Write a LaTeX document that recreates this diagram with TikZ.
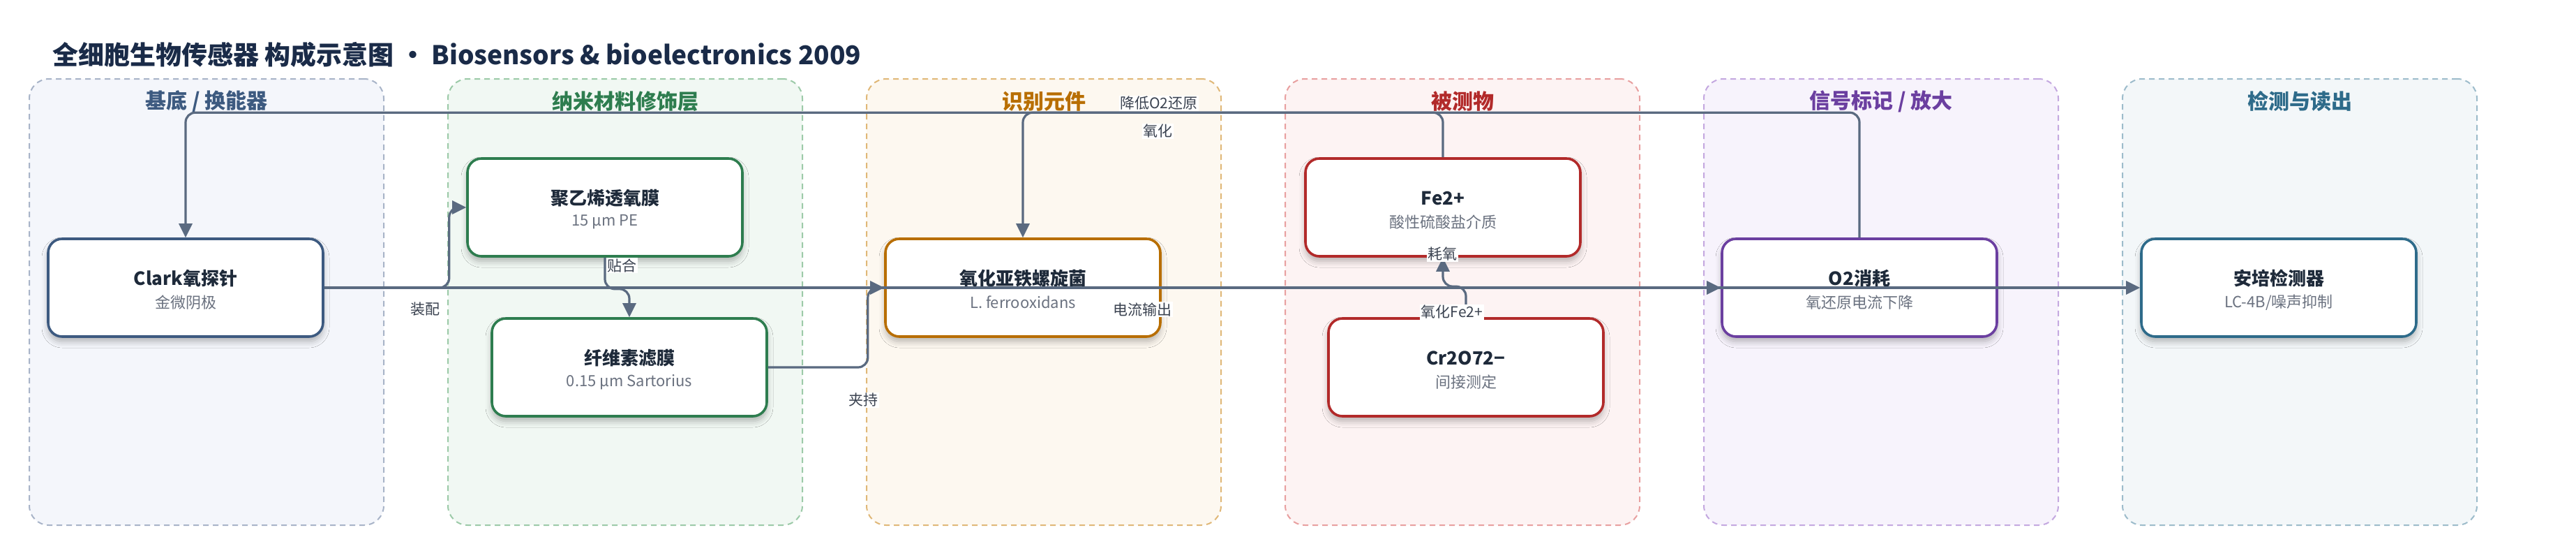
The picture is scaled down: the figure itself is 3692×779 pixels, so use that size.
\documentclass[tikz,border=0pt]{standalone}
\usepackage{fontspec}
\setmainfont{Noto Sans CJK SC}
\usetikzlibrary{arrows.meta,shadows.blur,calc}
\definecolor{edgec}{HTML}{5A6A80}
\definecolor{labc}{HTML}{3A4250}
\definecolor{ttl}{HTML}{1A2B48}
\definecolor{nodet}{HTML}{1E2A3A}
\definecolor{subt}{HTML}{6B7280}
\definecolor{laF}{HTML}{F4F6FB}\definecolor{laB}{HTML}{A8B4C8}\definecolor{laT}{HTML}{3D5A80}
\definecolor{lbF}{HTML}{F1F8F3}\definecolor{lbB}{HTML}{9CCAA8}\definecolor{lbT}{HTML}{2E7D4F}
\definecolor{lcF}{HTML}{FDF8F0}\definecolor{lcB}{HTML}{E0B878}\definecolor{lcT}{HTML}{B86E00}
\definecolor{ldF}{HTML}{FDF3F3}\definecolor{ldB}{HTML}{E8A0A0}\definecolor{ldT}{HTML}{B22A2A}
\definecolor{leF}{HTML}{F7F3FC}\definecolor{leB}{HTML}{C4A8E0}\definecolor{leT}{HTML}{6B3FA0}
\definecolor{lfF}{HTML}{F3F7F9}\definecolor{lfB}{HTML}{9DBCCB}\definecolor{lfT}{HTML}{2E6B8A}
\tikzset{
  lanebox/.style={draw, line width=2pt, dash pattern=on 8pt off 6pt, rounded corners=28pt,
    minimum width=508pt, minimum height=639pt, inner sep=0pt},
  lanetitle/.style={font=\fontsize{30}{34}\selectfont\bfseries, inner sep=0pt},
  card/.style={draw, fill=white, line width=3.6pt, rounded corners=20pt,
    minimum width=394pt, minimum height=140pt, inner sep=0pt,
    blur shadow={shadow xshift=0pt, shadow yshift=-7pt, shadow blur radius=9pt, shadow opacity=28}},
  cardtitle/.style={font=\fontsize{26}{30}\selectfont\bfseries, text=nodet, inner sep=0pt},
  cardsub/.style={font=\fontsize{22}{26}\selectfont, text=subt, inner sep=0pt},
  edge/.style={draw=edgec, line width=3.2pt, rounded corners=14pt,
    -{Triangle[length=20pt,width=19pt]}},
  elabel/.style={font=\fontsize{21}{24}\selectfont, text=labc, fill=white, inner sep=1.5pt},
}
\begin{document}
\begin{tikzpicture}[x=1pt,y=-1pt]
\useasboundingbox (0,0) rectangle (3692,779);
\fill[white] (0,0) rectangle (3692,779);
\node[anchor=west, inner sep=0pt, text=ttl, font=\fontsize{37}{42}\selectfont\bfseries] (title) at (75,78)
  {全细胞生物传感器 构成示意图 • Biosensors \& bioelectronics 2009};
% lanes
\node[lanebox, draw=laB, fill=laF] (lane1) at (296,432.5) {};
\node[lanebox, draw=lbB, fill=lbF] (lane2) at (896,432.5) {};
\node[lanebox, draw=lcB, fill=lcF] (lane3) at (1496,432.5) {};
\node[lanebox, draw=ldB, fill=ldF] (lane4) at (2096,432.5) {};
\node[lanebox, draw=leB, fill=leF] (lane5) at (2696,432.5) {};
\node[lanebox, draw=lfB, fill=lfF] (lane6) at (3296,432.5) {};
\node[lanetitle, text=laT] (lt1) at (296,145) {基底 / 换能器};
\node[lanetitle, text=lbT] (lt2) at (896,145) {纳米材料修饰层};
\node[lanetitle, text=lcT] (lt3) at (1496,145) {识别元件};
\node[lanetitle, text=ldT] (lt4) at (2096,145) {被测物};
\node[lanetitle, text=leT] (lt5) at (2696,145) {信号标记 / 放大};
\node[lanetitle, text=lfT] (lt6) at (3296,145) {检测与读出};
% cards
\node[card, draw=laT] (clark) at (266,412) {};
\node[card, draw=lbT] (pe) at (867,297) {};
\node[card, draw=lbT] (cell) at (902,526) {};
\node[card, draw=lcT] (bact) at (1466,412) {};
\node[card, draw=ldT] (fe) at (2068,297) {};
\node[card, draw=ldT] (cr) at (2101,526) {};
\node[card, draw=leT] (o2) at (2665,412) {};
\node[card, draw=lfT] (amp) at (3266,412) {};
\foreach \n/\t/\s in {clark/Clark氧探针/金微阴极, pe/聚乙烯透氧膜/15 µm PE, cell/纤维素滤膜/0.15 µm Sartorius,
  bact/氧化亚铁螺旋菌/L. ferrooxidans, fe/Fe2+/酸性硫酸盐介质, cr/Cr2O72−/间接测定,
  o2/O2消耗/氧还原电流下降, amp/安培检测器/{LC-4B/噪声抑制}}{
  \node[cardtitle] (\n-t) at ($(\n.center)+(0,-13)$) {\t};
  \node[cardsub] (\n-s) at ($(\n.center)+(0,21)$) {\s};
}
% edges
\draw[edge] (clark.east) -- (amp.west);
\draw[edge] (clark.east) -- ++(179,0) |- (pe.west);
\draw[edge] (pe.south) -- ++(0,45) -| (cell.north);
\draw[edge] (cell.east) -- ++(143,0) |- (bact.west);
\draw[edge] (fe.north) -- ++(0,-64) -| (bact.north);
\draw[edge] (bact.east) -- (o2.west);
\draw[edge] (cr.north) -- ++(0,-44) -| (fe.south);
\draw[edge] (o2.north) -- ++(0,-179) -| (clark.north);
% edge labels
\node[elabel] (l1) at (609,443) {装配};
\node[elabel] (l2) at (891,380) {贴合};
\node[elabel] (l3) at (1237,573) {夹持};
\node[elabel] (l4) at (1661,148) {降低O2还原};
\node[elabel] (l5) at (1659,188) {氧化};
\node[elabel] (l6) at (1637,443) {电流输出};
\node[elabel] (l7) at (2067,364) {耗氧};
\node[elabel] (l8) at (2081,447) {氧化Fe2+};
\end{tikzpicture}
\end{document}
